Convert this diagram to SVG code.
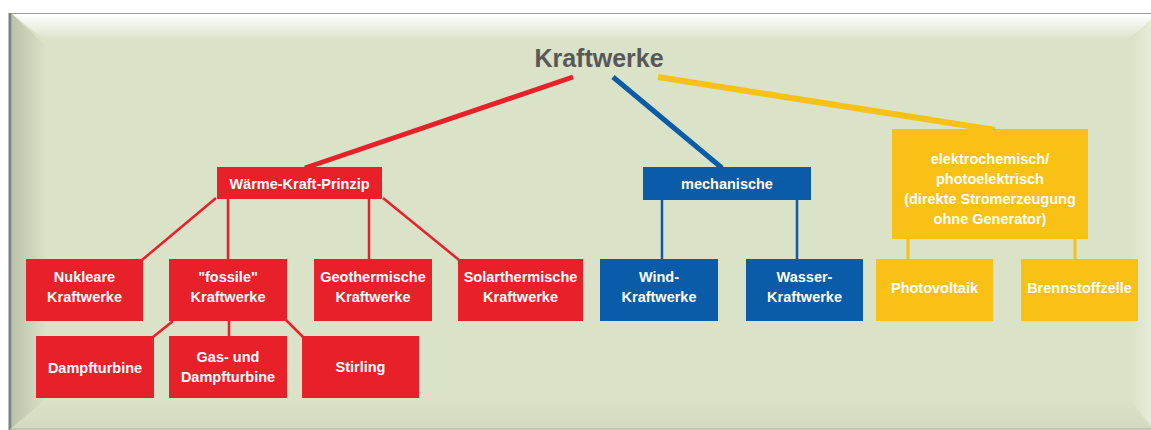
<svg xmlns="http://www.w3.org/2000/svg" width="1151" height="430" viewBox="0 0 1151 430">
<defs>
<linearGradient id="gTop" x1="0" y1="0" x2="0" y2="1"><stop offset="0" stop-color="#ffffff"/><stop offset="1" stop-color="#dae2c8"/></linearGradient>
<linearGradient id="gLeft" x1="0" y1="0" x2="1" y2="0"><stop offset="0" stop-color="#bcc3ab"/><stop offset="1" stop-color="#d8e0c6"/></linearGradient>
<linearGradient id="gRight" x1="0" y1="0" x2="1" y2="0"><stop offset="0" stop-color="#dae2c8"/><stop offset="1" stop-color="#e6ecd8"/></linearGradient>
<linearGradient id="gBot" x1="0" y1="0" x2="0" y2="1"><stop offset="0" stop-color="#dae2c8"/><stop offset="1" stop-color="#d2dac0"/></linearGradient>
<style>
.t{font-family:"Liberation Sans",Arial,sans-serif;font-weight:bold;font-size:14.5px;fill:#ffffff;text-anchor:middle}
.title{font-family:"Liberation Sans",Arial,sans-serif;font-weight:bold;font-size:25px;fill:#585858;text-anchor:middle}
.r{fill:#e8202a}
.b{fill:#0a5ca8}
.y{fill:#f9c116}
.lr{stroke:#e8202a;fill:none}
.lb{stroke:#0a5ca8;fill:none}
.ly{stroke:#f9c116;fill:none}
</style>
</defs>
<rect x="0" y="0" width="1151" height="430" fill="#ffffff"/>
<g id="frame">
<rect x="10" y="13" width="1141" height="417" fill="#dae2c8"/>
<polygon points="12,14 1151,14 1151,20 1128,40 45,40" fill="url(#gTop)"/>
<polygon points="12,14 45,45 45,400 12,428" fill="url(#gLeft)"/>
<polygon points="1151,20 1130,40 1130,400 1151,425" fill="url(#gRight)"/>
<polygon points="45,400 1130,400 1151,428 12,428" fill="url(#gBot)"/>
<line x1="10" y1="13.5" x2="1151" y2="13.5" stroke="#9a9a9a" stroke-width="1"/>
<line x1="10" y1="13" x2="10" y2="430" stroke="#7f7f7f" stroke-width="3"/>
<line x1="10" y1="429" x2="1151" y2="429" stroke="#b9c0a8" stroke-width="1.5"/>
</g>
<g id="connectors">
<line class="lr" x1="573" y1="77" x2="305" y2="168" stroke-width="5"/>
<line class="lb" x1="613" y1="77" x2="722" y2="168" stroke-width="5"/>
<line class="ly" x1="658" y1="77" x2="995" y2="130" stroke-width="6"/>
<line class="lr" x1="216" y1="198" x2="142" y2="260" stroke-width="2.5"/>
<line class="lr" x1="228" y1="198" x2="228" y2="260" stroke-width="2.5"/>
<line class="lr" x1="369" y1="198" x2="369" y2="260" stroke-width="2.5"/>
<line class="lr" x1="383" y1="198" x2="459" y2="260" stroke-width="2.5"/>
<line class="lr" x1="173" y1="321" x2="153" y2="337" stroke-width="2.5"/>
<line class="lr" x1="229" y1="321" x2="229" y2="337" stroke-width="2.5"/>
<line class="lr" x1="286" y1="320" x2="303" y2="337" stroke-width="2.5"/>
<line class="lb" x1="662" y1="200" x2="662" y2="260" stroke-width="2.5"/>
<line class="lb" x1="797" y1="200" x2="797" y2="260" stroke-width="2.5"/>
<line class="ly" x1="908" y1="239" x2="908" y2="260" stroke-width="3"/>
<line class="ly" x1="1075" y1="239" x2="1075" y2="260" stroke-width="3"/>
</g>
<g id="root"><text class="title" x="599" y="67">Kraftwerke</text></g>
<g id="waerme"><rect class="r" x="217" y="167" width="165" height="32"/><text class="t" x="299.5" y="189">Wärme-Kraft-Prinzip</text></g>
<g id="mechanische"><rect class="b" x="643" y="167" width="168" height="33"/><text class="t" x="727" y="189">mechanische</text></g>
<g id="elektro"><rect class="y" x="892" y="129" width="196" height="110"/>
<text class="t" x="990" y="164">elektrochemisch/</text>
<text class="t" x="990" y="184">photoelektrisch</text>
<text class="t" x="990" y="204">(direkte Stromerzeugung</text>
<text class="t" x="990" y="224">ohne Generator)</text></g>
<g id="nukleare"><rect class="r" x="26" y="259" width="117" height="62"/><text class="t" x="84.5" y="282">Nukleare</text><text class="t" x="84.5" y="302">Kraftwerke</text></g>
<g id="fossile"><rect class="r" x="169" y="259" width="118" height="62"/><text class="t" x="228" y="282">"fossile"</text><text class="t" x="228" y="302">Kraftwerke</text></g>
<g id="geothermische"><rect class="r" x="314" y="259" width="118" height="62"/><text class="t" x="373" y="282">Geothermische</text><text class="t" x="373" y="302">Kraftwerke</text></g>
<g id="solarthermische"><rect class="r" x="458" y="259" width="125" height="62"/><text class="t" x="520.5" y="282">Solarthermische</text><text class="t" x="520.5" y="302">Kraftwerke</text></g>
<g id="wind"><rect class="b" x="600" y="259" width="118" height="62"/><text class="t" x="659" y="282">Wind-</text><text class="t" x="659" y="302">Kraftwerke</text></g>
<g id="wasser"><rect class="b" x="746" y="259" width="117" height="62"/><text class="t" x="804.5" y="282">Wasser-</text><text class="t" x="804.5" y="302">Kraftwerke</text></g>
<g id="photovoltaik"><rect class="y" x="876" y="259" width="117" height="62"/><text class="t" x="934.5" y="293">Photovoltaik</text></g>
<g id="brennstoffzelle"><rect class="y" x="1021" y="259" width="117" height="62"/><text class="t" x="1079.5" y="293">Brennstoffzelle</text></g>
<g id="dampfturbine"><rect class="r" x="36" y="336" width="118" height="62"/><text class="t" x="95" y="373">Dampfturbine</text></g>
<g id="gasdampf"><rect class="r" x="169" y="336" width="118" height="62"/><text class="t" x="228" y="362">Gas- und</text><text class="t" x="228" y="382">Dampfturbine</text></g>
<g id="stirling"><rect class="r" x="302" y="336" width="117" height="62"/><text class="t" x="360.5" y="372">Stirling</text></g>
</svg>
